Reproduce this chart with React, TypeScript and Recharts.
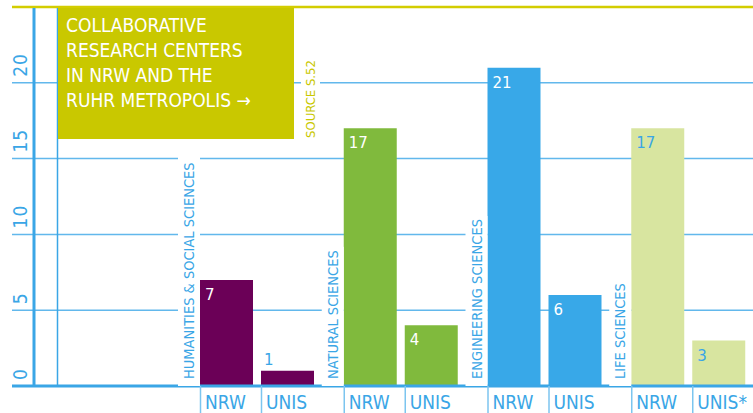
import { BarChart, Bar, XAxis, YAxis, CartesianGrid, ReferenceLine, LabelList, Cell } from "recharts";

const categories = ["HUMANITIES & SOCIAL SCIENCES", "NATURAL SCIENCES", "ENGINEERING SCIENCES", "LIFE SCIENCES"];
const nrwValues = [7, 17, 21, 17];
const unisValues = [1, 4, 6, 3];
const nrwTickLabels = ["NRW", "NRW", "NRW", "NRW"];
const unisTickLabels = ["UNIS", "UNIS", "UNIS", "UNIS*"];
const yTicks = [0, 5, 10, 15, 20];
const titleLines = ["COLLABORATIVE", "RESEARCH CENTERS", "IN NRW AND THE", "RUHR METROPOLIS →"];
const sourceNote = "SOURCE S.52";

const barColors = ["#6b0057", "#80ba3d", "#38a8e8", "#d8e5a0"];
const valueColors = ["#ffffff", "#ffffff", "#ffffff", "#3aa6e6"];

const BLUE = "#3aa6e6";
const GRID = "#62b8ec";
const OLIVE = "#c9c800";
const FONT = "'Liberation Sans Narrow', 'DejaVu Sans Condensed', Roboto, sans-serif";
const NUM_FONT = "'DejaVu Sans', sans-serif";

const data = categories.map((name, i) => ({
  name,
  nrw: nrwValues[i],
  unis: unisValues[i],
  nrwTick: nrwTickLabels[i],
  unisTick: unisTickLabels[i],
}));

const renderYTick = (props: any) => {
  const { y, payload } = props;
  const by = y - 6;
  return (
    <text x={27} y={by} transform={`rotate(-90, 27, ${by})`} fill={BLUE} fontFamily={FONT} fontSize={19} letterSpacing={1}>
      {payload.value}
    </text>
  );
};

const ValueLabel = (props: any) => {
  const { x, y, height, value, index } = props;
  const small = height < 22;
  return (
    <text
      x={small ? x + 3 : x + 5}
      y={small ? y - 6 : y + 20}
      fill={small ? BLUE : valueColors[index]}
      fontFamily={NUM_FONT}
      fontSize={15}
    >
      {value}
    </text>
  );
};

const CategoryLabel = (props: any) => {
  const { x, y, height, value } = props;
  const base = y + height;
  const len = String(value).length * 7.7;
  const tx = x - 6;
  const ty = base - 7;
  return (
    <g>
      <rect x={x - 22} y={base - len - 16} width={22} height={len + 16} fill="#ffffff" />
      <text x={tx} y={ty} transform={`rotate(-90, ${tx}, ${ty})`} fill={BLUE} fontFamily={FONT} fontSize={14.5}>
        {value}
      </text>
    </g>
  );
};

const TickLabel = (props: any) => {
  const { x, y, height, value } = props;
  const base = y + height;
  return (
    <g>
      <line x1={x + 0.5} x2={x + 0.5} y1={base} y2={413} stroke="#7cc5ef" strokeWidth={1.5} />
      <text x={x + 5} y={base + 23} fill={BLUE} fontFamily={FONT} fontSize={19}>
        {value}
      </text>
    </g>
  );
};

export default function App() {
  return (
    <div style={{ position: "absolute", left: 0, top: 0, width: 753, height: 413, overflow: "hidden", background: "#fff" }}>
      <BarChart
        width={760}
        height={413}
        data={data}
        margin={{ top: 7, right: 0, bottom: 27, left: 12 }}
        barSize={53}
        barGap={8}
      >
        <CartesianGrid vertical={false} stroke={GRID} strokeWidth={1.5} />
        <XAxis dataKey="name" hide padding={{ left: 173, right: 0 }} />
        <YAxis
          domain={[0, 25]}
          ticks={yTicks}
          mirror
          axisLine={false}
          tickLine={false}
          tick={renderYTick}
          interval={0}
        />
        <ReferenceLine y={25} stroke="#d3cd00" strokeWidth={2.5} />
        <Bar dataKey="nrw" isAnimationActive={false}>
          {data.map((_, i) => (
            <Cell key={i} fill={barColors[i]} />
          ))}
          <LabelList dataKey="name" content={<CategoryLabel />} />
          <LabelList dataKey="nrw" content={<ValueLabel />} />
          <LabelList dataKey="nrwTick" content={<TickLabel />} />
        </Bar>
        <Bar dataKey="unis" isAnimationActive={false}>
          {data.map((_, i) => (
            <Cell key={i} fill={barColors[i]} />
          ))}
          <LabelList dataKey="unis" content={<ValueLabel />} />
          <LabelList dataKey="unisTick" content={<TickLabel />} />
        </Bar>
        <ReferenceLine y={0} stroke={BLUE} strokeWidth={3} />
      </BarChart>
      <svg width={753} height={413} style={{ position: "absolute", left: 0, top: 0, pointerEvents: "none" }}>
        <line x1={34} x2={34} y1={8} y2={387} stroke={BLUE} strokeWidth={3} />
        <line x1={57.5} x2={57.5} y1={8} y2={386} stroke={BLUE} strokeWidth={1.5} />
        <rect x={58} y={8} width={236} height={131} fill={OLIVE} />
        {titleLines.map((t, i) => (
          <text key={t} x={66} y={32 + i * 25} fill="#ffffff" fontFamily={FONT} fontSize={19}>
            {t}
          </text>
        ))}
        <rect x={301} y={58} width={19} height={84} fill="#ffffff" />
        <text x={315} y={138} transform="rotate(-90, 315, 138)" fill={OLIVE} fontFamily={FONT} fontSize={13}>
          {sourceNote}
        </text>
      </svg>
    </div>
  );
}
